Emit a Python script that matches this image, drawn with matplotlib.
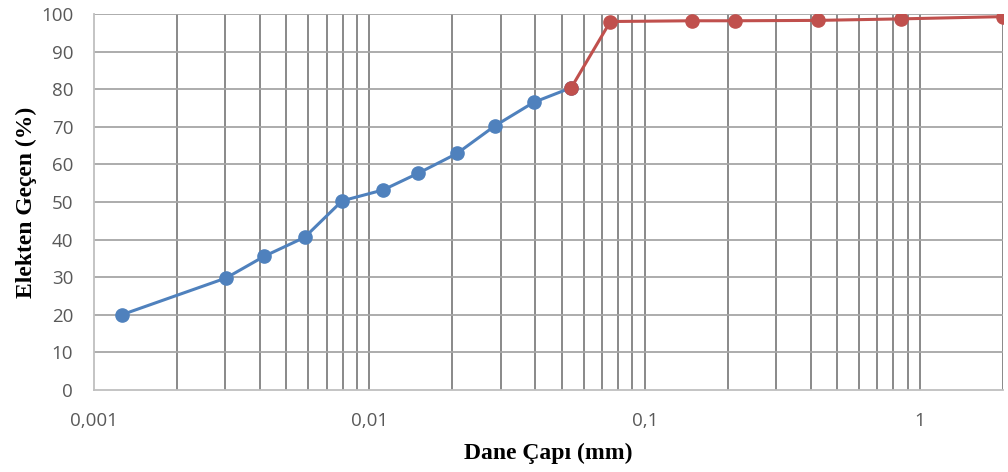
import matplotlib
matplotlib.use("Agg")
import matplotlib.pyplot as plt
from matplotlib.ticker import FixedLocator, FuncFormatter, NullFormatter
import numpy as np

# Data
blue_x = [0.00126, 0.00302, 0.00416, 0.00582, 0.00796, 0.01121, 0.0150, 0.0208, 0.0285, 0.0395, 0.0541]
blue_y = [20.0, 29.8, 35.6, 40.6, 50.3, 53.2, 57.6, 62.9, 70.2, 76.5, 80.4]
red_x = [0.0541, 0.075, 0.148, 0.212, 0.425, 0.85, 2.0]
red_y = [80.4, 98.0, 98.2, 98.2, 98.3, 98.7, 99.3]
x_major = [0.001, 0.01, 0.1, 1]
x_major_labels = ["0,001", "0,01", "0,1", "1"]
y_ticks = list(range(0, 101, 10))

fig = plt.figure(figsize=(10.08, 4.72), dpi=100)
ax = fig.add_axes([94/1008, 1-390/472, (1003-94)/1008, (390-14)/472])

ax.set_xscale("log")
ax.set_xlim(0.001, 2)
ax.set_ylim(0, 100)

# grid lines
minor = []
for dec in [0.001, 0.01, 0.1, 1]:
    for m in range(2, 10):
        v = dec * m
        if v <= 2.0001:
            minor.append(v)
vlines = sorted(set(minor + x_major[1:] + [2.0]))
for v in vlines:
    ax.axvline(v, color="#808080", lw=1.3, zorder=1)
for yv in y_ticks[1:]:
    ax.axhline(yv, color="#a6a6a6", lw=1.3, zorder=1)

ax.plot(blue_x, blue_y, color="#4f81bd", lw=2.2, marker="o", ms=9.5, zorder=3)
ax.plot(red_x, red_y, color="#c0504d", lw=2.2, marker="o", ms=9.5, zorder=4)

ax.xaxis.set_major_locator(FixedLocator(x_major))
ax.xaxis.set_major_formatter(FuncFormatter(lambda v, p: x_major_labels[x_major.index(min(x_major, key=lambda t: abs(np.log10(t) - np.log10(v))))]))
ax.xaxis.set_minor_locator(FixedLocator([]))
ax.xaxis.set_minor_formatter(NullFormatter())
ax.set_yticks(y_ticks)

ax.tick_params(axis="both", length=0, labelsize=13.5, labelcolor="#595959")
ax.tick_params(axis="x", pad=16)
ax.tick_params(axis="y", pad=15)
for lbl in ax.get_xticklabels() + ax.get_yticklabels():
    lbl.set_family(["Open Sans", "DejaVu Sans"])

for s in ["top", "right"]:
    ax.spines[s].set_visible(False)
for s in ["left", "bottom"]:
    ax.spines[s].set_color("#bfbfbf")
    ax.spines[s].set_linewidth(1.3)

ax.set_xlabel("Dane Çapı (mm)", family=["Liberation Serif", "DejaVu Serif"], fontweight="bold", fontsize=17, labelpad=9)
ax.set_ylabel("Elekten Geçen (%)", family=["Liberation Serif", "DejaVu Serif"], fontweight="bold", fontsize=17, labelpad=3)

fig.savefig("out.png", dpi=100)
